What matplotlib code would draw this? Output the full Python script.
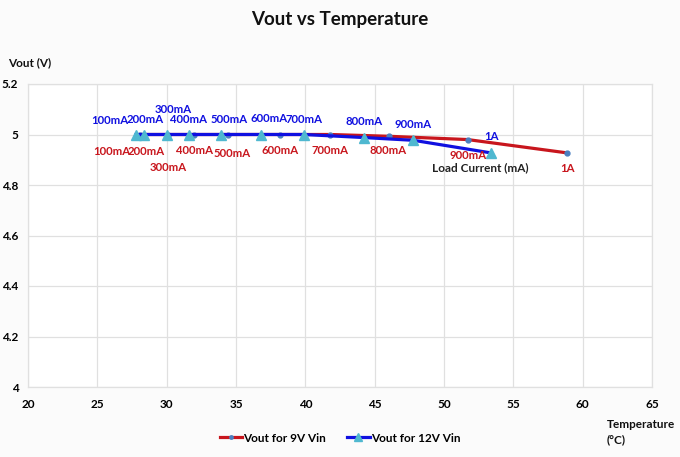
import matplotlib
matplotlib.use("Agg")
import matplotlib.pyplot as plt

plt.rcParams['font.family'] = ['Lato', 'DejaVu Sans']

loads = ["100mA", "200mA", "300mA", "400mA", "500mA", "600mA", "700mA", "800mA", "900mA", "1A"]

temp_9v = [28.1, 28.4, 30.1, 32.0, 34.4, 38.2, 41.8, 46.0, 51.7, 58.9]
vout_9v = [5.0, 5.0, 5.0, 5.0, 5.0, 5.0, 5.0, 4.993, 4.98, 4.927]

temp_12v = [27.8, 28.4, 30.0, 31.6, 33.9, 36.8, 39.9, 44.2, 47.8, 53.4]
vout_12v = [5.0, 5.0, 5.0, 5.0, 5.0, 5.0, 5.0, 4.988, 4.977, 4.927]

x_ticks = [20, 25, 30, 35, 40, 45, 50, 55, 60, 65]
y_ticks = [4, 4.2, 4.4, 4.6, 4.8, 5, 5.2]
y_tick_labels = ["4", "4.2", "4.4", "4.6", "4.8", "5", "5.2"]

red = "#c8161d"
blue = "#1010e0"
tri = "#4fb8d0"

fig = plt.figure(figsize=(6.8, 4.57), dpi=100)
fig.patch.set_facecolor("#fbfbfb")
ax = fig.add_axes([28/680, 1-387/457, (652-28)/680, (387-84)/457])
ax.set_facecolor("white")

ax.plot(temp_9v, vout_9v, color=red, lw=2.3, marker="o", ms=3.5,
        mfc="#4a7fc0", mec="#4a7fc0", label="Vout for 9V Vin", zorder=3)
ax.plot(temp_12v, vout_12v, color=blue, lw=2.3, marker="^", ms=7.5,
        mfc=tri, mec=tri, label="Vout for 12V Vin", zorder=4)

PX = 72 / 100.0  # points per pixel

# labels for 9V (red, below) -- offsets in pixels
red_off = [(-29, 16.5), (1.5, 16.5), (0, 32.5), (0.6, 15.5), (4, 18.5),
           (0, 15.5), (0, 15.5), (0, 14.7), (0, 15.5), (0, 15.7)]
for (t, v, lab, (dx, dy)) in zip(temp_9v, vout_9v, loads, red_off):
    ax.annotate(lab, (t, v), xytext=(dx * PX, -dy * PX), textcoords="offset points",
                ha="center", va="center", color=red, fontsize=8.2, fontweight="bold", zorder=5)
# labels for 12V (blue, above)
blue_off = [(-26, 14.5), (0.5, 15.5), (7, 25.5), (0, 15.5), (8, 15.5),
            (8, 16.5), (0, 15.5), (0, 16.5), (0, 16), (0, 16)]
for (t, v, lab, (dx, dy)) in zip(temp_12v, vout_12v, loads, blue_off):
    ax.annotate(lab, (t, v), xytext=(dx * PX, dy * PX), textcoords="offset points",
                ha="center", va="center", color=blue, fontsize=8.2, fontweight="bold", zorder=5)

ax.text(52.6, 4.867, "Load Current (mA)", ha="center", va="center", fontsize=8.5,
        fontweight="bold", color="#222222")

ax.set_xlim(20, 65)
ax.set_ylim(4, 5.2)
ax.set_xticks(x_ticks)
ax.set_yticks(y_ticks)
ax.set_yticklabels(y_tick_labels)
ax.grid(True, color="#e0e0e0", lw=0.9)
ax.set_axisbelow(True)
for s in ax.spines.values():
    s.set_color("#e0e0e0")
    s.set_linewidth(0.9)
ax.tick_params(length=0, labelsize=8.5)
ax.tick_params(axis="x", pad=9)
ax.tick_params(axis="y", pad=7)
for lbl in ax.get_xticklabels() + ax.get_yticklabels():
    lbl.set_fontweight("bold")

fig.text(0.5, 1-19/457, "Vout vs Temperature", ha="center", va="center",
         fontsize=13.5, fontweight="bold", color="#111111")
fig.text(8/680, 1-63/457, "Vout (V)", ha="left", va="center",
         fontsize=8.5, fontweight="bold", color="#111111")
fig.text(607/680, 1-425/457, "Temperature", ha="left", va="center",
         fontsize=8.5, fontweight="bold", color="#111111")
fig.text(607/680, 1-440/457, "(°C)", ha="left", va="center",
         fontsize=8.5, fontweight="bold", color="#111111")

leg = fig.legend(loc="center", bbox_to_anchor=(0.5, 1-438/457), ncol=2,
                 frameon=False, fontsize=8.5, handlelength=1.9, columnspacing=1.8,
                 handletextpad=0.1, markerscale=0.7)
for t in leg.get_texts():
    t.set_fontweight("bold")

fig.savefig("out.png", dpi=100, facecolor=fig.get_facecolor())
